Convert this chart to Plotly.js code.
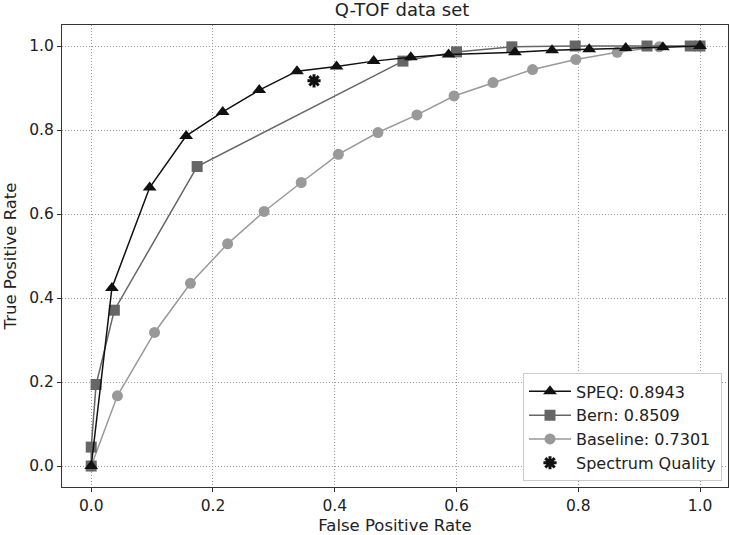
<!DOCTYPE html>
<html><head><meta charset="utf-8">
<script src="https://cdn.plot.ly/plotly-3.0.1.min.js"></script>
<style>body{margin:0;padding:0;background:#fff}#c{width:731px;height:535px}</style>
</head><body><div id="c"></div>
<script>
const speqX = [0, 0.034, 0.096, 0.156, 0.216, 0.276, 0.338, 0.403, 0.464, 0.525, 0.587, 0.696, 0.757, 0.818, 0.878, 0.939, 1.0];
const speqY = [0, 0.424, 0.663, 0.786, 0.843, 0.895, 0.940, 0.951, 0.964, 0.973, 0.980, 0.985, 0.990, 0.992, 0.995, 0.997, 1.0];
const bernX = [0, 0, 0.008, 0.038, 0.174, 0.512, 0.600, 0.691, 0.795, 0.913, 0.984, 1.0];
const bernY = [0, 0.045, 0.194, 0.371, 0.713, 0.964, 0.986, 0.998, 1.0, 1.0, 1.0, 1.0];
const baseX = [0, 0.043, 0.104, 0.163, 0.224, 0.284, 0.345, 0.406, 0.471, 0.535, 0.596, 0.660, 0.725, 0.796, 0.864, 0.933, 1.0];
const baseY = [0, 0.167, 0.318, 0.435, 0.529, 0.606, 0.675, 0.742, 0.794, 0.836, 0.881, 0.913, 0.944, 0.968, 0.985, 0.998, 1.0];
const sqX = [0.366];
const sqY = [0.917];
const names = ["SPEQ: 0.8943", "Bern: 0.8509", "Baseline: 0.7301", "Spectrum Quality"];
const tickVals = [0, 0.2, 0.4, 0.6, 0.8, 1.0];
const tickText = ["0.0", "0.2", "0.4", "0.6", "0.8", "1.0"];

const traces = [
  {x: speqX, y: speqY, name: names[0], mode: "lines+markers",
   line: {color: "#111111", width: 1.5},
   marker: {symbol: "triangle-up", size: 12, color: "#111111"}},
  {x: bernX, y: bernY, name: names[1], mode: "lines+markers",
   line: {color: "#666666", width: 1.5},
   marker: {symbol: "square", size: 11, color: "#666666"}},
  {x: baseX, y: baseY, name: names[2], mode: "lines+markers",
   line: {color: "#999999", width: 1.5},
   marker: {symbol: "circle", size: 11, color: "#999999"}},
  {x: sqX, y: sqY, name: names[3], mode: "markers",
   marker: {symbol: "asterisk-open", size: 11, color: "#111111", line: {color: "#111111", width: 3}}}
];
const traceOrder = [2, 1, 0, 3];
const data = traceOrder.map(i => traces[i]);
traces[0].legendrank = 1; traces[1].legendrank = 2; traces[2].legendrank = 3; traces[3].legendrank = 4;

const axisCommon = {
  showline: true, mirror: true, linecolor: "#333", linewidth: 1,
  ticks: "outside", ticklen: 4, tickcolor: "#333",
  showgrid: true, gridcolor: "#999999", griddash: "1px,2px", gridwidth: 1,
  zeroline: false, tickfont: {family: "DejaVu Sans", size: 15.5, color: "#222"},
  tickvals: tickVals, ticktext: tickText
};
const layout = {
  width: 731, height: 535,
  margin: {l: 62, r: 3, t: 25, b: 48},
  paper_bgcolor: "#fff", plot_bgcolor: "#fff",
  title: {text: "Q-TOF data set", font: {family: "DejaVu Sans", size: 18, color: "#222"},
    x: 0.55, xanchor: "center", yref: "container", y: 1, yanchor: "top", pad: {t: 3}},
  xaxis: Object.assign({}, axisCommon, {range: [-0.048, 1.046],
    title: {text: "False Positive Rate", font: {family: "DejaVu Sans", size: 16.5, color: "#222"}, standoff: 6}}),
  yaxis: Object.assign({}, axisCommon, {range: [-0.05, 1.05],
    title: {text: "True Positive Rate", font: {family: "DejaVu Sans", size: 16.5, color: "#222"}, standoff: 8}}),
  showlegend: true,
  legend: {x: 0.991, y: 0.012, xanchor: "right", yanchor: "bottom",
    bgcolor: "#fff", bordercolor: "#cccccc", borderwidth: 1,
    font: {family: "DejaVu Sans", size: 16, color: "#222"},
    tracegroupgap: 0, itemwidth: 42}
};
Plotly.newPlot("c", data, layout, {displayModeBar: false, staticPlot: true});
</script></body></html>
